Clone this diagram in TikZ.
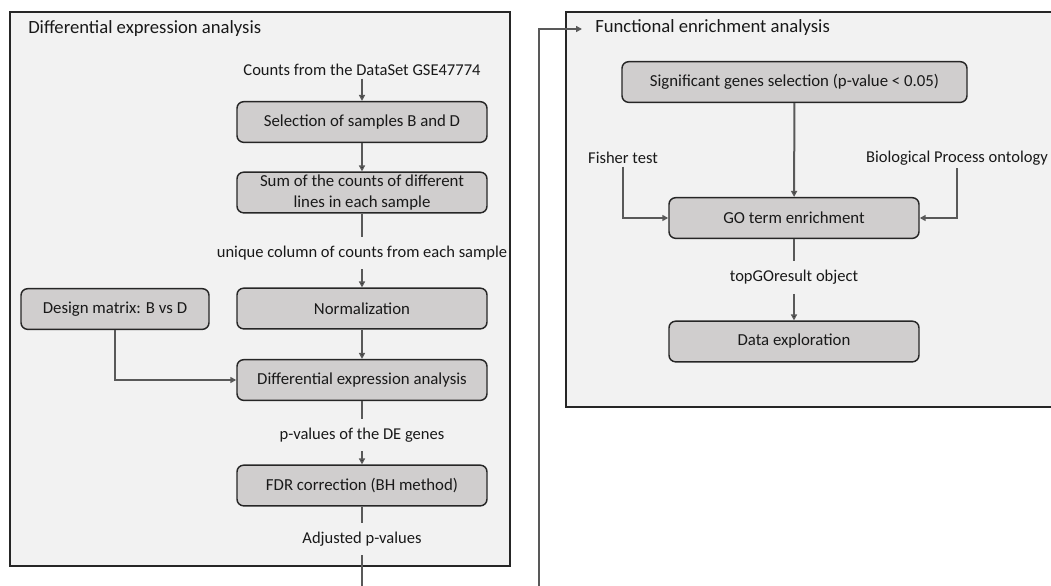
\documentclass[tikz,border=0pt]{standalone}
\usepackage{fontspec}
\setmainfont{Carlito}
\usepackage{tikz}
\usetikzlibrary{arrows.meta}
\definecolor{panelgray}{HTML}{F2F2F2}
\definecolor{boxgray}{HTML}{D0CECE}
\definecolor{linegray}{HTML}{595959}
\definecolor{edgedark}{HTML}{262626}
\tikzset{
    task/.style={
           rectangle,
           rounded corners=5pt,
           draw=edgedark, line width=1.1pt,
           fill=boxgray,
           text=black!90,
           minimum width=187.5pt,
           minimum height=30.5pt,
           inner sep=1pt,
           align=center,
           font=\fontsize{12.6}{15.5}\selectfont,
           },
    panel/.style={draw=edgedark, line width=1.1pt, fill=panelgray},
    flowlabel/.style={inner sep=2pt, text=black!90, font=\fontsize{12.4}{14}\selectfont},
    midlabel/.style={flowlabel, minimum height=24pt},
    paneltitle/.style={anchor=west, inner sep=0pt, text=black!90, font=\fontsize{14}{16}\selectfont},
    conn/.style={draw=linegray, line width=1.5pt},
}

\begin{document}
\begin{tikzpicture}[x=0.75pt, y=-0.75pt, >={Triangle[length=4.5pt,width=4.5pt]}]
    \path[use as bounding box, clip] (0,0) rectangle (1051,586);

    % panels
    \draw[panel] (10,12) rectangle (510,566);
    \draw[panel] (566,12) rectangle (1075,407);
    \node[paneltitle] (detitle) at (28,29) {Differential expression analysis};
    \node[paneltitle] (fetitle) at (595,28) {Functional enrichment analysis};

    % differential expression
    \node[flowlabel] (counts) at (362,70)    {Counts from the DataSet GSE47774};
    \node[task] (select)  at (362,122)       {Selection of samples B and D};
    \node[task] (sum)     at (362,192.5)     {Sum of the counts of different\\lines in each sample};
    \node[midlabel] (uniq) at (362,253)      {unique column of counts from each sample};
    \node[task] (norm)    at (362,308.5)     {Normalization};
    \node[task, minimum width=141pt] (design) at (115,309) {Design matrix: B vs D};
    \node[task] (dea)     at (362,380)       {Differential expression analysis};
    \node[midlabel] (pvals) at (362,435)     {p-values of the DE genes};
    \node[task] (fdr)     at (362,485.5)     {FDR correction (BH method)};
    \node[midlabel] (adj) at (362,539)       {Adjusted p-values};
    \coordinate (deout) at (362,590);
    \coordinate (fein)  at (539,590);
    \coordinate (fetip) at (582,29);

    % functional enrichment
    \node[task, minimum width=258.75pt] (signif) at (794.5,82) {Significant genes selection (p-value < 0.05)};
    \node[flowlabel] (fisher) at (623,158)   {Fisher test};
    \node[flowlabel] (bio)    at (957,158)   {Biological Process ontology};
    \node[task] (goterm)  at (794,218)       {GO term enrichment};
    \node[midlabel] (topgo) at (794,277.5)   {topGOresult object};
    \node[task] (explore) at (794,341.5)     {Data exploration};

    \path[conn]
    (counts) edge[->] (select)
    (select) edge[->] (sum)
    (sum)    edge     (uniq)
    (uniq)   edge[->] (norm)
    (norm)   edge[->] (dea)
    (dea)    edge     (pvals)
    (pvals)  edge[->] (fdr)
    (fdr)    edge     (adj)
    (adj)    edge     (deout)
    (signif) edge[->] (goterm)
    (goterm) edge     (topgo)
    (topgo)  edge[->] (explore);
    \draw[conn,->] (design.south) |- (dea.west);
    \draw[conn,->] (fisher.south) |- (goterm.west);
    \draw[conn,->] (bio.south) |- (goterm.east);
    \draw[conn,->] (fein) |- (fetip);
\end{tikzpicture}
\end{document}
